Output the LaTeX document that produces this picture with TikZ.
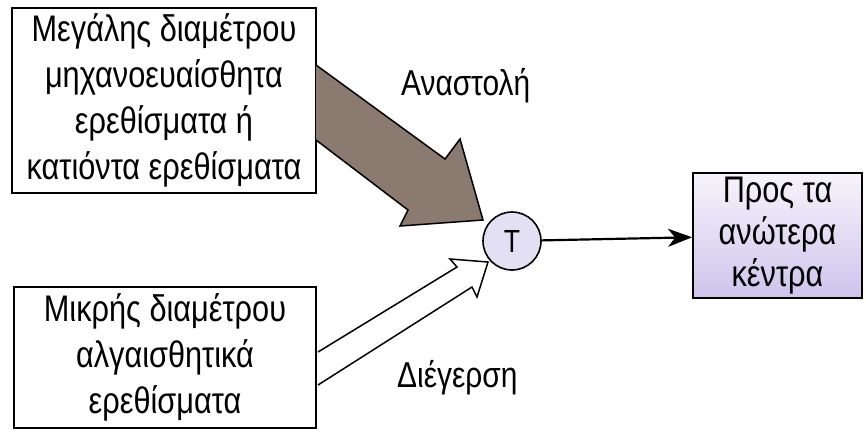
\documentclass[tikz,border=0pt]{standalone}
\usepackage{fontspec}
\setmainfont{Liberation Sans}[FakeStretch=0.83]
\usetikzlibrary{arrows.meta}
\definecolor{brownarrow}{RGB}{138,122,112}
\definecolor{lavtop}{RGB}{246,244,251}
\definecolor{lavbot}{RGB}{206,196,236}
\definecolor{circfill}{RGB}{228,224,243}
\tikzset{
  txt/.style={font=\fontsize{37}{46}\selectfont, align=center, inner sep=0pt},
  boxnode/.style={draw=black, line width=1.8pt, fill=white, txt},
  bigarrow/.style={draw=black, line width=1.5pt, fill=brownarrow, line join=miter},
  smallarrow/.style={draw=black, line width=1.5pt, fill=white, line join=miter},
  lbl/.style={font=\fontsize{36}{40}\selectfont, inner sep=0pt, anchor=base west}
}
\begin{document}
\begin{tikzpicture}[x=1pt,y=-1pt]
\useasboundingbox (0,0) rectangle (866,432);

\node[boxnode, minimum width=304pt, minimum height=185pt] (big) at (164,100.5)
  {Μεγάλης διαμέτρου\\μηχανοευαίσθητα\\ερεθίσματα ή\\κατιόντα ερεθίσματα};
\node[boxnode, minimum width=302pt, minimum height=141pt] (small) at (165,357.5)
  {Μικρής διαμέτρου\\αλγαισθητικά\\ερεθίσματα};
\node[draw=black, line width=1.8pt, top color=lavtop, bottom color=lavbot, txt,
  font=\fontsize{37}{42}\selectfont, minimum width=169pt, minimum height=125pt] (out) at (777.5,235.5)
  {Προς τα\\ανώτερα\\κέντρα};
\node[circle, draw=black, line width=1.6pt, fill=circfill, minimum size=58pt, inner sep=0pt,
  font=\fontsize{32}{36}\selectfont] (T) at (512,241) {T};

% inhibition arrow
\coordinate (b1) at (316,65);
\coordinate (b2) at (445,159);
\coordinate (b3) at (460,139);
\coordinate (btip) at (483,220);
\coordinate (b5) at (400,226);
\coordinate (b6) at (408,210);
\coordinate (b7) at (316,140);
\draw[bigarrow] (b1) -- (b2) -- (b3) -- (btip) -- (b5) -- (b6) -- (b7);

% excitation arrow
\coordinate (s1) at (318,352);
\coordinate (s2) at (457,267);
\coordinate (s3) at (450,259);
\coordinate (stip) at (488,262);
\coordinate (s5) at (477,297);
\coordinate (s6) at (472,287);
\coordinate (s7) at (318,385);
\draw[smallarrow] (s1) -- (s2) -- (s3) -- (stip) -- (s5) -- (s6) -- (s7);

\draw[line width=2.2pt, -{Stealth[length=24pt,width=18pt,inset=7pt]}] (T) -- (out);

\node[lbl] (inh) at (401,95) {Αναστολή};
\node[lbl] (exc) at (397,387) {Διέγερση};
\end{tikzpicture}
\end{document}
